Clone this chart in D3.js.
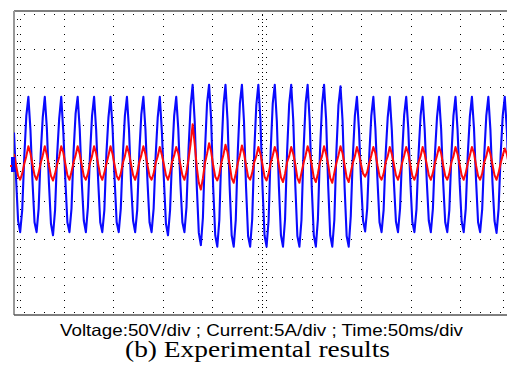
<!DOCTYPE html>
<html><head><meta charset="utf-8">
<script src="https://cdn.jsdelivr.net/npm/d3@7"></script>
<style>html,body{margin:0;padding:0;background:#fff;}svg{display:block;}</style>
</head><body>
<svg id="chart" width="507" height="371"></svg>
<script>
// ---- data (read from the oscilloscope capture) ----
const sampleMs = 2.07;          // time between samples, ms
const msPerDiv = 50, timeDivs = 10;
const voltsPerDiv = 50, ampsPerDiv = 5, vertDivs = 8;
const caption1 = "Voltage:50V/div ; Current:5A/div ; Time:50ms/div";
const caption2 = "(b) Experimental results";

// voltage samples (V), 8 samples per cycle
const voltage = [
  40,-20,-76,-91,-62,8,62,87,
  44,-24,-78,-91,-60,12,60,87,
  46,-26,-80,-95,-62,10,58,87,
  42,-22,-78,-91,-60,14,65,87,
  45,-25,-76,-91,-58,10,62,87,
  44,-24,-78,-91,-62,12,60,87,
  46,-22,-78,-91,-60,10,62,87,
  44,-26,-76,-91,-62,12,64,87,
  45,-24,-78,-91,-60,10,60,87,
  42,-22,-80,-95,-62,8,62,87,
  45,-25,-78,-91,-58,18,75,103,
  55,-30,-92,-108,-72,16,78,103,
  58,-32,-95,-110,-75,14,76,103,
  56,-30,-95,-110,-75,16,78,103,
  55,-32,-96,-110,-74,15,76,103,
  57,-30,-95,-110,-75,16,78,103,
  55,-31,-95,-110,-74,15,77,103,
  56,-30,-96,-110,-75,16,78,103,
  55,-32,-95,-110,-74,14,76,103,
  57,-30,-95,-110,-75,15,76,101,
  56,-32,-96,-110,-70,8,62,87,
  44,-24,-76,-90,-60,10,62,87,
  45,-22,-78,-91,-62,12,60,87,
  43,-25,-77,-91,-60,10,63,87,
  46,-24,-78,-91,-61,11,62,87,
  44,-23,-76,-91,-60,12,60,87,
  45,-25,-78,-91,-62,10,62,87,
  44,-24,-77,-91,-60,12,61,87,
  46,-22,-78,-91,-61,10,62,87,
  44,-25,-76,-92,-60,11,62,87,
  44,-24
];

// current samples (A), same time base
const current = [
  1.2,-0.3,-1.7,-2.2,-1.4,-0.1,0.9,2.2,
  1.3,-0.2,-1.6,-2.2,-1.3,0.0,1.0,2.2,
  1.1,-0.3,-1.7,-2.3,-1.4,-0.2,0.8,2.2,
  1.4,-0.1,-1.6,-2.2,-1.2,0.1,1.0,2.2,
  1.2,-0.3,-1.7,-2.2,-1.4,0.0,0.9,2.2,
  1.3,-0.2,-1.6,-2.2,-1.3,-0.1,1.0,2.2,
  1.2,-0.3,-1.7,-2.2,-1.4,0.0,0.9,2.2,
  1.3,-0.2,-1.6,-2.2,-1.3,0.1,1.0,2.2,
  1.2,-0.3,-1.7,-2.2,-1.4,0.0,0.9,2.1,
  1.1,-0.2,-1.6,-2.2,-1.3,0.2,1.0,2.1,
  1.3,-0.2,-1.6,-2.2,-1.2,0.5,2.5,5.1,
  2.5,-0.5,-2.6,-3.5,-2.0,0.0,1.2,2.6,
  1.5,-0.3,-1.8,-2.3,-1.5,0.1,1.1,2.4,
  1.4,-0.2,-2.0,-2.6,-1.4,0.0,1.0,2.3,
  1.3,-0.3,-1.8,-2.2,-1.3,0.1,0.9,2.1,
  1.2,-0.2,-1.8,-2.3,-1.4,0.0,1.0,2.1,
  1.3,-0.3,-1.9,-2.5,-1.4,0.1,0.9,2.1,
  1.2,-0.2,-2.0,-2.6,-1.3,0.0,1.0,2.2,
  1.3,-0.3,-1.9,-2.5,-1.4,0.1,0.9,2.2,
  1.2,-0.2,-2.0,-2.6,-1.3,0.0,1.0,2.2,
  1.3,-0.3,-1.9,-2.5,-1.2,0.0,0.9,2.1,
  1.2,-0.2,-1.4,-1.8,-1.2,0.0,1.0,2.1,
  1.3,-0.3,-1.7,-2.2,-1.4,0.1,0.9,2.1,
  1.2,-0.2,-1.6,-2.2,-1.3,0.0,1.0,2.1,
  1.3,-0.3,-1.7,-2.2,-1.4,0.1,0.9,2.1,
  1.2,-0.2,-1.6,-2.2,-1.3,0.0,1.0,2.1,
  1.3,-0.3,-1.7,-2.2,-1.4,0.1,0.9,2.1,
  1.2,-0.2,-1.6,-2.2,-1.3,0.0,1.0,2.1,
  1.3,-0.3,-1.7,-2.2,-1.4,0.1,0.9,2.1,
  1.2,-0.2,-1.6,-2.2,-1.3,0.0,1.0,1.9,
  1.2,-0.2
];

// ---- drawing ----
const svg = d3.select("#chart");
const plot = {left:14, right:510, top:11, bottom:315};
const tMax = msPerDiv*timeDivs, vMax = voltsPerDiv*vertDivs/2, iMax = ampsPerDiv*vertDivs/2;
const x = d3.scaleLinear().domain([0,tMax]).range([plot.left, plot.right]);
const yV = d3.scaleLinear().domain([-vMax,vMax]).range([plot.bottom, plot.top]);
const yI = d3.scaleLinear().domain([-iMax,iMax]).range([plot.bottom, plot.top]);

svg.append("defs").append("clipPath").attr("id","clip")
  .append("rect").attr("x",plot.left).attr("y",plot.top)
  .attr("width",plot.right-plot.left).attr("height",plot.bottom-plot.top);

const dots = [];
const tMinor = d3.range(0, tMax+0.01, msPerDiv/5);
const vMinor = d3.range(-vMax, vMax+0.01, voltsPerDiv/5);
// horizontal grid lines
d3.range(-vMax+voltsPerDiv, vMax, voltsPerDiv).forEach(v=>{
  if (v===0) return;
  tMinor.forEach(t=>dots.push([x(t), yV(v)]));
});
// vertical grid lines
d3.range(msPerDiv, tMax, msPerDiv).forEach(t=>{
  if (t===tMax/2) return;
  vMinor.forEach(v=>dots.push([x(t), yV(v)]));
});
// centre lines with finer ticks
d3.range(0, tMax+0.01, msPerDiv/10).forEach(t=>dots.push([x(t), yV(0)]));
tMinor.forEach(t=>{dots.push([x(t), yV(0)-3]); dots.push([x(t), yV(0)+3]);});
d3.range(-vMax, vMax+0.01, voltsPerDiv/10).forEach(v=>dots.push([x(tMax/2), yV(v)]));
vMinor.forEach(v=>{dots.push([x(tMax/2)-4, yV(v)]); dots.push([x(tMax/2)+4, yV(v)]);});
// frame ticks
tMinor.forEach(t=>{dots.push([x(t), plot.top+3]); dots.push([x(t), plot.bottom-3]);});
vMinor.forEach(v=>{dots.push([plot.left+2.5, yV(v)]); dots.push([plot.left+5.5, yV(v)]); dots.push([plot.right-7, yV(v)]);});

svg.append("g").attr("clip-path","url(#clip)").selectAll("rect").data(dots).join("rect")
  .attr("x",d=>Math.round(d[0])).attr("y",d=>Math.round(d[1]))
  .attr("width",1).attr("height",1).attr("fill","#000")
  .attr("shape-rendering","crispEdges");

// frame
svg.append("line").attr("x1",plot.left).attr("x2",plot.right).attr("y1",plot.top).attr("y2",plot.top)
  .attr("stroke","#808080").attr("stroke-width",2);
svg.append("line").attr("x1",plot.left).attr("x2",plot.left).attr("y1",plot.top).attr("y2",plot.bottom)
  .attr("stroke","#999").attr("stroke-width",2);
svg.append("line").attr("x1",plot.left).attr("x2",plot.right).attr("y1",plot.bottom).attr("y2",plot.bottom)
  .attr("stroke","#555").attr("stroke-width",1.6);

// waveforms
const g = svg.append("g").attr("clip-path","url(#clip)");
const lineV = d3.line().x((d,i)=>x(i*sampleMs)).y(d=>yV(d));
const lineI = d3.line().x((d,i)=>x(i*sampleMs)).y(d=>yI(d));
g.append("path").datum(voltage).attr("d",lineV).attr("fill","none")
  .attr("stroke","#0a0aff").attr("stroke-width",2.1).attr("stroke-linejoin","round");
g.append("path").datum(current).attr("d",lineI).attr("fill","none")
  .attr("stroke","#ff0a0a").attr("stroke-width",2).attr("stroke-linejoin","round");

// channel markers
svg.append("rect").attr("x",plot.left-3).attr("y",yV(0)-6).attr("width",4).attr("height",15).attr("fill","#0a0aff");
svg.append("rect").attr("x",plot.left-4).attr("y",yV(0)+2).attr("width",2).attr("height",2).attr("fill","#ff0a0a");

// captions
svg.append("text").attr("x",60).attr("y",335.5)
  .attr("font-family","Liberation Sans, Arial, sans-serif").attr("font-size",16.5).attr("fill","#000")
  .attr("textLength",403).attr("lengthAdjust","spacingAndGlyphs").text(caption1);
svg.append("text").attr("x",125).attr("y",356.5)
  .attr("font-family","Liberation Serif, Times New Roman, serif").attr("font-size",23).attr("fill","#000")
  .attr("textLength",265).attr("lengthAdjust","spacingAndGlyphs").text(caption2);
</script>
</body></html>
